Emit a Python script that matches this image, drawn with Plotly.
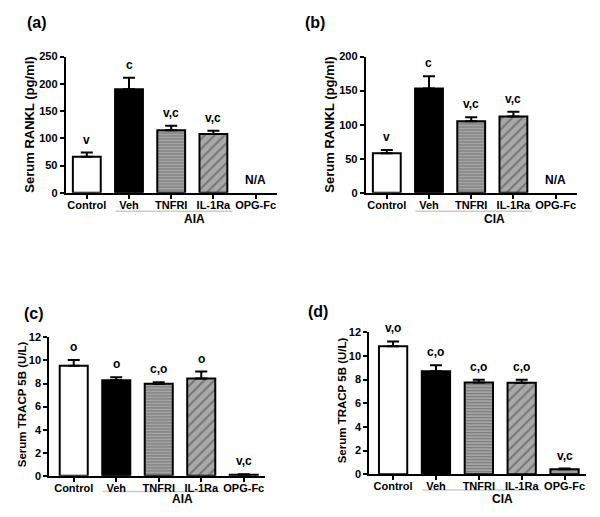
import plotly.graph_objects as go

W, H = 600, 517

categories = ["Control", "Veh", "TNFRI", "IL-1Ra", "OPG-Fc"]

rankl_aia = [66, 190, 115, 108, None]
rankl_aia_err = [8, 21, 8, 6, None]
rankl_aia_sig = ["v", "c", "v,c", "v,c", "N/A"]

rankl_cia = [58, 153, 105, 112, None]
rankl_cia_err = [5, 18, 6, 7, None]
rankl_cia_sig = ["v", "c", "v,c", "v,c", "N/A"]

tracp_aia = [9.54, 8.28, 7.99, 8.44, 0.1]
tracp_aia_err = [0.5, 0.27, 0.12, 0.6, 0.04]
tracp_aia_sig = ["o", "o", "c,o", "o", "v,c"]

tracp_cia = [10.82, 8.7, 7.76, 7.73, 0.42]
tracp_cia_err = [0.4, 0.5, 0.22, 0.25, 0.05]
tracp_cia_sig = ["v,o", "c,o", "c,o", "c,o", "v,c"]

bar_colors = ["white", "black", "#a9a9a9", "#a9a9a9", "#9a9a9a"]
pattern_shapes = ["", "", "-", "/", ""]
pattern_sizes = [6, 6, 3, 7, 6]
pattern_solid = [0.3, 0.3, 0.4, 0.3, 0.3]

FONT = "Liberation Sans, Arial, sans-serif"


def px_x(x):
    return x / W


def px_y(y):
    return 1 - y / H


panels = [
    dict(v=rankl_aia, e=rankl_aia_err, s=rankl_aia_sig, yt="Serum RANKL (pg/ml)", g="AIA",
         xd=(65.7, 276.7), yd=(191.3, 51.7), x0=-0.5, ymax=250, dt=50, lab="(a)", lp=(37, 17),
         tp=(30, 121.5), ts=13, gy=218, line_y=210),
    dict(v=rankl_cia, e=rankl_cia_err, s=rankl_cia_sig, yt="Serum RANKL (pg/ml)", g="CIA",
         xd=(365.7, 576.7), yd=(191.3, 51.7), x0=-0.5, ymax=200, dt=50, lab="(b)", lp=(315, 17),
         tp=(330, 121.5), ts=13, gy=218, line_y=210),
    dict(v=tracp_aia, e=tracp_aia_err, s=tracp_aia_sig, yt="Serum TRACP 5B (U/L)", g="AIA",
         xd=(49.3, 265), yd=(481, 339.3), x0=-0.575, ymax=12, dt=2, lab="(c)", lp=(34, 315),
         tp=(21.7, 408), ts=11.5, gy=505, line_y=497),
    dict(v=tracp_cia, e=tracp_cia_err, s=tracp_cia_sig, yt="Serum TRACP 5B (U/L)", g="CIA",
         xd=(369.3, 586), yd=(479.3, 334), x0=-0.555, ymax=12, dt=2, lab="(d)", lp=(318, 313),
         tp=(341.7, 404), ts=11.5, gy=505, line_y=495.5),
]

fig = go.Figure()
annotations = []
shapes = []
layout = dict(
    width=W, height=H, margin=dict(l=0, r=0, t=0, b=0),
    paper_bgcolor="white", plot_bgcolor="white", showlegend=False,
    font=dict(family=FONT, color="black"),
)

for i, p in enumerate(panels):
    n = "" if i == 0 else str(i + 1)
    xa, ya = "x" + n, "y" + n
    fig.add_trace(go.Bar(
        x=categories, y=p["v"], xaxis=xa, yaxis=ya, width=0.66,
        marker=dict(
            color=bar_colors,
            line=dict(color="black", width=2),
            pattern=dict(shape=pattern_shapes, fgcolor="#1e1e1e",
                         size=pattern_sizes, solidity=pattern_solid, fillmode="overlay"),
        ),
        error_y=dict(type="data", symmetric=False, array=[e if e is not None else 0 for e in p["e"]],
                     arrayminus=[0] * 5, color="black", thickness=2, width=6),
        hoverinfo="skip",
    ))
    layout["xaxis" + n] = dict(
        domain=[px_x(p["xd"][0]), px_x(p["xd"][1])], anchor=ya, tickangle=0,
        type="category", range=[p["x0"], 4.5], showline=True, linecolor="black", linewidth=2,
        ticks="outside", ticklen=4, tickwidth=2, tickcolor="black", showgrid=False,
        ticklabelstandoff=-3,
        tickfont=dict(size=11, family=FONT, weight="bold", color="black"),
    )
    layout["yaxis" + n] = dict(
        domain=[px_y(p["yd"][0]), px_y(p["yd"][1])], anchor=xa,
        range=[0, p["ymax"]], dtick=p["dt"], showline=True, linecolor="black", linewidth=2,
        ticks="outside", ticklen=4, tickwidth=2, tickcolor="black", showgrid=False, zeroline=False,
        tickfont=dict(size=11, family=FONT, weight="bold", color="black"),
    )
    for c, v, e, s in zip(categories, p["v"], p["e"], p["s"]):
        top = (v or 0) + (e or 0)
        annotations.append(dict(
            x=c, y=top, xref=xa, yref=ya, text=s, showarrow=False, yanchor="bottom",
            yshift=4, font=dict(size=12, family=FONT, weight="bold", color="black")))
    annotations.append(dict(
        x=px_x(p["lp"][0]), y=px_y(p["lp"][1]), xref="paper", yref="paper", text=p["lab"],
        showarrow=False, xanchor="center", yanchor="middle",
        font=dict(size=16, family=FONT, weight="bold", color="black")))
    annotations.append(dict(
        x=px_x(p["tp"][0]), y=px_y(p["tp"][1]), xref="paper", yref="paper", text=p["yt"],
        showarrow=False, textangle=-90, xanchor="center", yanchor="middle",
        font=dict(size=p["ts"], family=FONT, weight="bold", color="black")))
    annotations.append(dict(
        x=2.55, y=px_y(p["gy"]), xref=xa, yref="paper", text=p["g"],
        showarrow=False, xanchor="center", yanchor="middle",
        font=dict(size=12, family=FONT, weight="bold", color="black")))
    shapes.append(dict(
        type="line", xref=xa, yref="paper", x0=0.68, x1=3.45, layer="below",
        y0=px_y(p["line_y"]), y1=px_y(p["line_y"]), line=dict(color="#cccccc", width=1.5)))

layout["annotations"] = annotations
layout["shapes"] = shapes
fig.update_layout(**layout)
fig.write_html(
    "out.html",
    config={"displayModeBar": False},
    post_script=(
        "document.body.style.margin='0';document.body.style.overflow='hidden';"
        "var d=document.getElementById('{plot_id}');"
        "d.style.position='fixed';d.style.top='0px';d.style.left='0px';"
    ),
)
